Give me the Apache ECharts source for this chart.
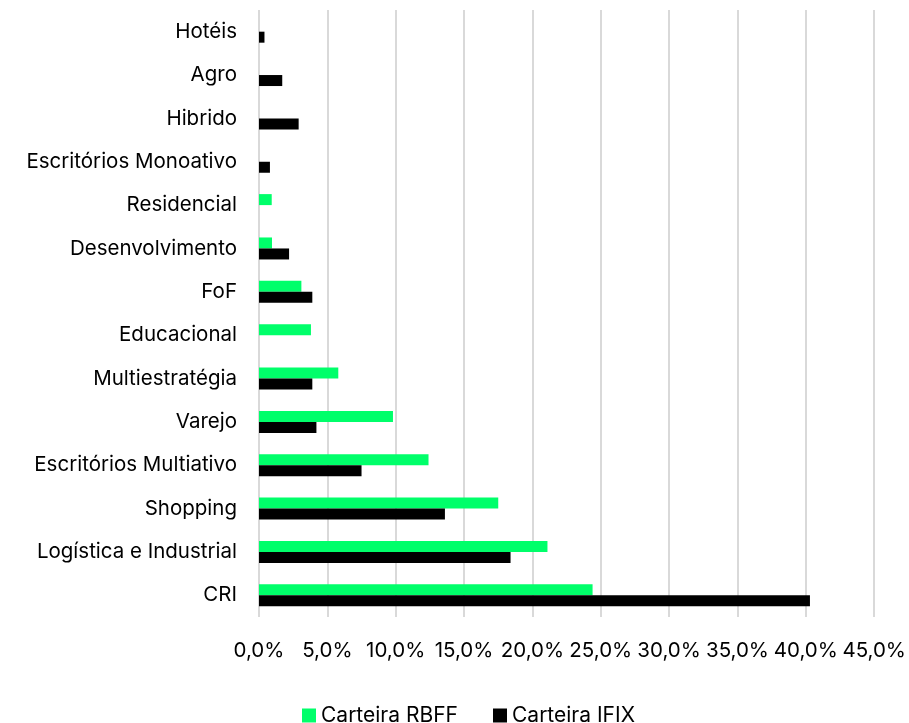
<!DOCTYPE html>
<html>
<head>
<meta charset="utf-8">
<script src="https://cdn.jsdelivr.net/npm/echarts@6/dist/echarts.min.js"></script>
<style>
  html, body { margin: 0; padding: 0; background: #fff; }
  #chart { width: 909px; height: 723px; }
</style>
</head>
<body>
<div id="chart"></div>
<script>
// Segment breakdown, listed bottom to top
const categories = [
  'CRI', 'Logística e Industrial', 'Shopping', 'Escritórios Multiativo',
  'Varejo', 'Multiestratégia', 'Educacional', 'FoF', 'Desenvolvimento',
  'Residencial', 'Escritórios Monoativo', 'Hibrido', 'Agro', 'Hotéis'
];
// Allocation in percent; null where the portfolio has no exposure
const rbff = [24.4, 21.1, 17.5, 12.4, 9.8, 5.8, 3.8, 3.1, 0.95, 0.93, null, null, null, null];
const ifix = [40.3, 18.4, 13.6, 7.5, 4.2, 3.9, null, 3.9, 2.2, null, 0.8, 2.9, 1.7, 0.4];
const xTicks = [0, 5, 10, 15, 20, 25, 30, 35, 40, 45];
const seriesNames = ['Carteira RBFF', 'Carteira IFIX'];

const font = 'Inter, Liberation Sans, Arial, sans-serif';
const chart = echarts.init(document.getElementById('chart'), null, { renderer: 'canvas' });

// One legend block per series so each entry sits at its own spot
const legendBase = {
  top: 705,
  icon: 'rect',
  itemWidth: 14,
  itemHeight: 14,
  padding: 0,
  selectedMode: false,
  textStyle: { fontFamily: font, fontSize: 21, color: '#000' }
};

chart.setOption({
  animation: false,
  backgroundColor: '#ffffff',
  grid: { left: 259, right: 33, top: 10, bottom: 106, containLabel: false },
  legend: [
    Object.assign({}, legendBase, { left: 302, data: [seriesNames[0]] }),
    Object.assign({}, legendBase, { left: 493, data: [seriesNames[1]] })
  ],
  xAxis: {
    type: 'value',
    min: xTicks[0],
    max: xTicks[xTicks.length - 1],
    interval: 5,
    axisLine: { show: false },
    axisTick: { show: false },
    splitLine: { show: true, lineStyle: { color: '#d9d9d9', width: 2 } },
    axisLabel: {
      margin: 23,
      fontFamily: font,
      fontSize: 20.5,
      color: '#000',
      formatter: v => v.toFixed(1).replace('.', ',') + '%'
    }
  },
  yAxis: {
    type: 'category',
    data: categories,
    axisLine: { show: false },
    axisTick: { show: false },
    axisLabel: { margin: 22, fontFamily: font, fontSize: 20.5, color: '#000' }
  },
  series: [
    {
      name: seriesNames[0],
      type: 'bar',
      data: rbff,
      barWidth: 11,
      barGap: '0%',
      itemStyle: { color: '#00ff6a' }
    },
    {
      name: seriesNames[1],
      type: 'bar',
      data: ifix,
      barWidth: 11,
      barGap: '0%',
      itemStyle: { color: '#000000' }
    }
  ]
});
</script>
</body>
</html>
